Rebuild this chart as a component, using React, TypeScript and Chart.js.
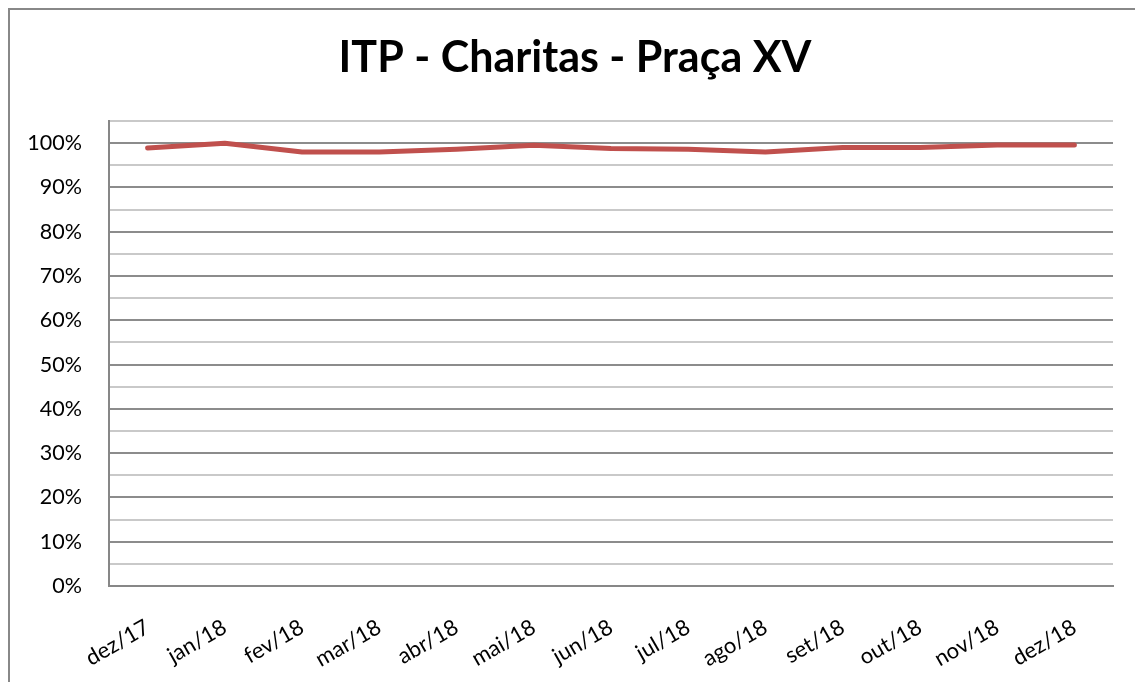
import React, { useEffect, useRef } from "react";
import { Chart, registerables } from "chart.js";

Chart.register(...registerables);

const CATEGORIES = ["dez/17", "jan/18", "fev/18", "mar/18", "abr/18", "mai/18", "jun/18", "jul/18", "ago/18", "set/18", "out/18", "nov/18", "dez/18"];
const ITP_VALUES = [98.9, 100, 98, 98, 98.6, 99.5, 98.8, 98.6, 98, 99, 99, 99.6, 99.6];
const TITLE = "ITP - Charitas - Praça XV";
const Y_MIN = 0;
const Y_MAX = 105;
const Y_STEP = 5;

export default function App() {
  const ref = useRef<HTMLCanvasElement | null>(null);

  useEffect(() => {
    const canvas = ref.current;
    if (!canvas) return;
    const font = "Lato, 'Liberation Sans', sans-serif";
    const chart = new Chart(canvas, {
      type: "line",
      data: {
        labels: CATEGORIES,
        datasets: [
          {
            label: "ITP",
            data: ITP_VALUES,
            borderColor: "#C0504D",
            backgroundColor: "#C0504D",
            borderWidth: 5,
            pointRadius: 0,
            tension: 0,
            borderJoinStyle: "round",
            borderCapStyle: "round",
            yAxisID: "y",
          },
        ],
      },
      options: {
        animation: false,
        responsive: false,
        maintainAspectRatio: false,
        layout: { padding: { left: 0, right: 5, top: 0, bottom: 0 } },
        plugins: {
          legend: { display: false },
          tooltip: { enabled: false },
          title: {
            display: true,
            text: TITLE,
            color: "#000",
            font: { family: font, size: 43, weight: "bold", lineHeight: 1.2 },
            padding: { top: 22, bottom: 37.4 },
          },
        },
        scales: {
          x: {
            type: "category",
            offset: true,
            grid: { display: false, drawTicks: false },
            border: { display: true, color: "#878787", width: 2 },
            ticks: {
              color: "#000",
              font: { family: font, size: 22 },
              minRotation: 30,
              maxRotation: 30,
              padding: 28,
              autoSkip: false,
            },
            afterFit: (scale: any) => {
              scale.height = 96;
            },
          },
          y: {
            min: Y_MIN,
            max: Y_MAX,
            grid: {
              drawTicks: false,
              lineWidth: 2,
              color: (ctx: any) =>
                ctx.tick && ctx.tick.value % 10 === 0 ? "#8c8c8c" : "#c9c9c9",
            },
            border: { display: true, color: "#878787", width: 2 },
            ticks: {
              stepSize: Y_STEP,
              color: "#000",
              font: { family: font, size: 21.5 },
              padding: 27,
              autoSkip: false,
              callback: (v: any) => (Number(v) % 10 === 0 ? `${v}%` : ""),
            },
            afterFit: (scale: any) => {
              scale.width = 99;
            },
          },
          y2: {
            type: "linear",
            position: "right",
            display: true,
            min: Y_MIN,
            max: Y_MAX,
            grid: { display: false, drawTicks: false },
            border: { display: false },
            ticks: { display: false },
            afterFit: (scale: any) => {
              scale.width = 27;
            },
          },
        },
      },
    });
    return () => chart.destroy();
  }, []);

  return (
    <div>
      <style>
        {"html, body { overflow: hidden !important; scrollbar-width: none; } ::-webkit-scrollbar { display: none; width: 0; height: 0; }"}
      </style>
      <div
        style={{
          position: "fixed",
          left: 8,
          top: 8,
          width: 1160,
          height: 700,
          borderTop: "2px solid #888",
          borderLeft: "2px solid #888",
          boxSizing: "border-box",
          pointerEvents: "none",
        }}
      />
      <canvas
        ref={ref}
        width={1135}
        height={672}
        style={{ display: "block", width: 1135, height: 672, position: "fixed", left: 10, top: 10 }}
      />
    </div>
  );
}
